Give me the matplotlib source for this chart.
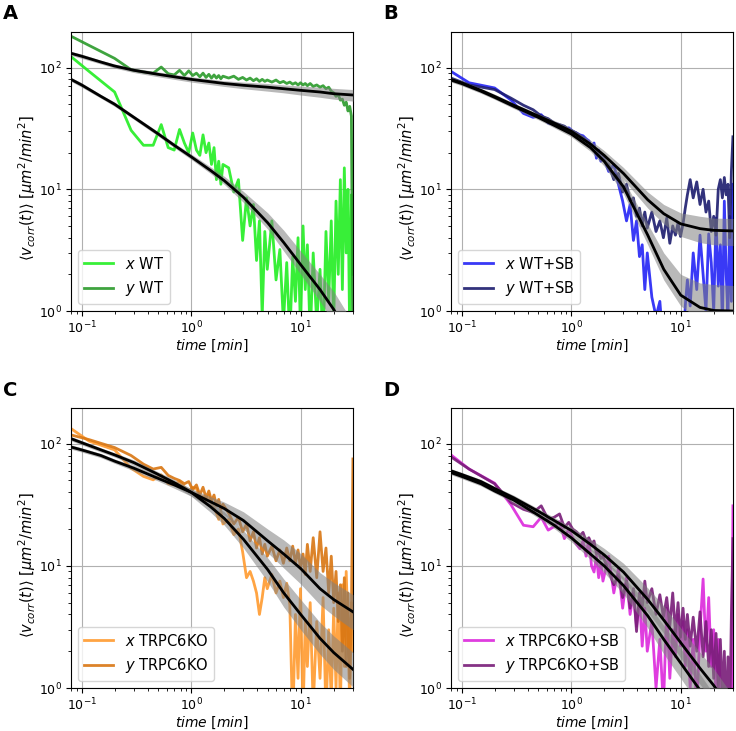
import numpy as np
import matplotlib
matplotlib.use("Agg")
import matplotlib.pyplot as plt

# sampling times of the measured curves [min]
t_data = [0.08, 0.117, 0.2, 0.283, 0.367, 0.45, 0.533, 0.617, 0.7, 0.783, 0.867, 0.95,
          1.033, 1.117, 1.2, 1.283, 1.367, 1.45, 1.533, 1.617, 1.7, 1.783, 1.867, 1.95,
          2.2, 2.45, 2.7, 2.95, 3.2, 3.45, 3.7, 3.95, 4.2, 4.45, 4.7, 4.95,
          5.45, 5.95, 6.45, 6.95, 7.45, 7.95, 8.45, 8.95, 9.45, 9.95, 10.5, 11.0,
          11.5, 12.2, 13, 14, 15, 16, 17, 18, 19, 20, 21, 22,
          23, 24, 25, 26, 27, 28, 29, 29.95]

# times of the fitted model curves [min]
t_fit = [0.08, 0.1, 0.15, 0.2, 0.3, 0.5, 0.7, 1, 1.5, 2, 3, 5, 7, 10, 15, 20, 30]

# ---- A: WT
wt_x = [123, 93, 63, 30.5, 23, 23, 34, 22, 21, 31, 24, 20,
        29, 21, 19, 28, 20, 24, 16, 22, 12, 17, 11, 16,
        15, 9.5, 12, 3.8, 8.5, 5, 7.5, 2.6, 5.5, 0.9, 4.5, 2.2,
        5.5, 1.8, 3.2, 0.8, 2.5, 0.6, 2.8, 1.2, 4.0, 0.7, 5.0, 1.5,
        3.5, 0.6, 3.0, 0.8, 2.2, 0.5, 4.5, 1.2, 5.5, 0.8, 8, 2,
        12, 1.5, 15, 3, 10, 0.6, 9, 2]
wt_y = [181, 152, 119, 96, 92, 90, 101, 89, 87, 95, 86, 94,
        86, 90, 84, 90, 83, 88, 82, 87, 82, 86, 81, 85,
        82, 85, 80, 83, 79, 82, 78, 81, 77, 80, 77, 79,
        76, 79, 75, 77, 74, 76, 73, 75, 72, 75, 72, 74,
        71, 74, 70, 72, 69, 71, 67, 69, 64, 62, 58, 60,
        54, 55, 49, 52, 44, 48, 40, 0.5]
fit_wt_x = [80, 72, 58, 50, 39, 28.5, 23, 18.5, 14.3, 11.8, 8.6, 5.3, 3.65, 2.4, 1.5, 1.03, 0.55]
fit_wt_x_lo = [77, 69, 56, 48, 37.5, 27.3, 22, 17.6, 13.5, 11.0, 7.8, 4.7, 3.1, 2.0, 1.2, 0.8, 0.4]
fit_wt_x_hi = [83, 75, 60, 52, 40.5, 29.7, 24, 19.5, 15.3, 12.8, 9.6, 6.4, 4.6, 3.1, 2.0, 1.45, 0.8]
fit_wt_y = [131, 124, 111, 103, 95, 88, 84, 80, 76.5, 74, 71.5, 69, 67, 65, 63, 61, 59.5]
fit_wt_y_lo = [126, 119, 107, 99, 91, 84, 80, 76, 72.5, 70, 67, 64, 62, 59.5, 57, 55, 53]
fit_wt_y_hi = [136, 129, 115, 107, 99, 92, 88, 84, 80.5, 78, 76, 74, 72, 70.5, 69, 67.5, 66]

# ---- B: WT+SB
wtsb_x = [93, 75, 68, 54, 42, 39, 41, 35, 34, 33, 31, 32,
          30, 29, 28, 27.5, 26, 25, 22, 24, 18, 21, 17, 19,
          14, 16, 11, 8, 5.5, 7.5, 3.8, 5.5, 2.8, 3.5, 1.5, 3.0,
          1.3, 0.9, 1.2, 0.5, 0.4, 0.9, 0.4, 0.3, 0.5, 0.9, 0.4, 1.1,
          1.8, 1.1, 3.0, 1.5, 4.2, 2.0, 1.0, 4.3, 2.5, 1.0, 5.8, 1.6,
          3.5, 0.8, 8, 2, 0.9, 6, 1.2, 11]
wtsb_y = [82, 72, 66, 56, 49, 45, 40, 38, 35, 34, 33, 31,
          30, 29, 27.5, 26.5, 25, 24, 22.5, 21, 20.5, 19, 18, 17.5,
          16, 12, 13.5, 9.5, 11, 8, 8.5, 6, 7, 5, 6.5, 4.8,
          6.5, 4.5, 5.5, 4.0, 5.8, 3.6, 5.0, 4.2, 5.3, 4.1, 5.2, 7,
          9, 12, 8.5, 11.5, 7.5, 10, 6.5, 8, 4.5, 6, 4.2, 10,
          12, 8.5, 12.5, 9, 11, 4, 14, 27]
fit_wtsb_x = [79, 74, 64, 57, 48, 39, 33.5, 28.5, 22, 17, 10.5, 4.2, 2.2, 1.35, 1.07, 1.01, 1.0]
fit_wtsb_x_lo = [76, 71, 61.5, 54.8, 46, 37.3, 32, 27, 20.5, 15.5, 9.2, 3.5, 1.8, 1.1, 0.85, 0.8, 0.78]
fit_wtsb_x_hi = [82, 77, 66.5, 59.2, 50, 40.7, 35, 30, 23.5, 18.6, 12, 5.2, 3.0, 2.0, 1.7, 1.65, 1.62]
fit_wtsb_y = [80, 75, 65, 58, 49, 40, 35, 30, 23.5, 19, 13.5, 8.2, 6.3, 5.2, 4.75, 4.6, 4.55]
fit_wtsb_y_lo = [77, 72, 62.5, 55.5, 47, 38.3, 33.3, 28.3, 21.8, 17.3, 12, 7.0, 5.2, 4.1, 3.65, 3.5, 3.45]
fit_wtsb_y_hi = [83, 78, 67.5, 60.5, 51, 41.8, 36.8, 31.8, 25.3, 20.8, 15.1, 9.5, 7.5, 6.4, 6.0, 5.8, 5.75]

# ---- C: TRPC6KO
ko_x = [133, 105, 89, 63, 54, 50.6, 55.6, 47, 46, 49, 44, 41,
        44, 43, 36, 37, 34, 38, 32, 30, 27, 24, 28, 22,
        24, 18, 20, 13, 8, 9, 7.5, 6, 4.0, 5.5, 8, 6.5,
        8.5, 6.0, 7.5, 5.5, 7.2, 4.8, 0.5, 4.0, 1.2, 6.5, 0.6, 3.5,
        1.5, 5.0, 0.7, 3.5, 1.2, 5.5, 0.6, 3.0, 0.8, 4.5, 1.0, 6,
        0.6, 7, 1.5, 9, 3, 0.7, 5, 2]
ko_y = [118, 108, 93, 80, 68, 62, 64, 55, 52, 50, 47, 49,
        42, 46, 38, 44, 36, 41, 34, 38, 31, 35, 29, 32,
        27, 22, 25, 19, 22, 16, 19, 14, 17, 12.5, 15, 12,
        14.5, 11, 13.5, 10.5, 14, 11, 14.5, 10.5, 13.5, 9.5, 12.5, 8.5,
        15, 9, 17, 8, 19, 9, 14, 6, 12, 5, 9, 3.5,
        7, 2.0, 8, 1.5, 6, 1.2, 4, 75]
fit_ko_x = [110, 102, 89, 81, 70, 56, 48, 40, 30.5, 24.5, 16.5, 9.3, 6.0, 4.0, 2.55, 1.95, 1.42]
fit_ko_x_lo = [105.6, 97.9, 85.4, 77.8, 66.5, 53.2, 45.1, 37.2, 27.5, 21.6, 14.0, 7.4, 4.6, 3.0, 1.89, 1.42, 1.02]
fit_ko_x_hi = [114.4, 106.1, 92.6, 84.2, 73.5, 58.8, 50.9, 42.8, 33.6, 27.7, 19.5, 11.6, 7.8, 5.3, 3.44, 2.67, 1.96]
fit_ko_y = [94, 89, 80, 72, 63, 52, 46, 40, 33.5, 29.5, 23.5, 16, 12.5, 9.5, 6.5, 5.3, 4.2]
fit_ko_y_lo = [90.2, 85.4, 76.8, 69.1, 59.9, 49.4, 43.2, 37.2, 30.2, 26.0, 20.0, 12.8, 9.6, 7.1, 4.8, 3.9, 3.0]
fit_ko_y_hi = [97.8, 92.6, 83.2, 74.9, 66.2, 54.6, 48.8, 42.8, 36.9, 33.3, 27.7, 20.0, 16.3, 12.6, 8.8, 7.3, 5.8]

# ---- D: TRPC6KO+SB
kosb_x = [81, 62, 47.5, 31.5, 21.5, 20.9, 25, 19.6, 21, 23, 16.7, 20,
          17, 15, 13.8, 16, 12, 16.7, 10, 8.9, 12, 8, 10.5, 7.5,
          12, 6, 9.5, 4.5, 8, 4, 6, 3.2, 5.5, 2.2, 4.5, 2.0,
          3.5, 1.0, 2.5, 0.7, 4.5, 1.2, 3.0, 1.8, 4.0, 2.2, 3.5, 1.5,
          3.0, 1.0, 2.5, 0.7, 3.0, 7.8, 2.0, 5.5, 1.5, 3.0, 0.8, 2.5,
          1.0, 0.5, 0.6, 0.4, 0.7, 0.4, 0.6, 31]
kosb_y = [78, 62, 47, 33, 29, 27.4, 31, 24, 25, 26.6, 20.6, 22.7,
          20, 19, 17.6, 18.8, 16, 17, 15, 16, 12.5, 13, 11.5, 12,
          9, 7, 8.5, 5.5, 7.5, 4.5, 6.5, 2.9, 6, 4.5, 7.5, 5,
          6.5, 4.0, 5.8, 3.8, 5.5, 3.2, 6.0, 2.8, 5.0, 2.6, 4.5, 2.5,
          4.0, 2.2, 3.8, 2.0, 4.2, 1.8, 3.5, 1.5, 3.0, 1.2, 2.8, 1.0,
          2.5, 0.8, 2.0, 0.5, 1.8, 0.5, 4, 16.7]
fit_kosb_x = [58, 54, 47, 41, 34.5, 26, 21.5, 17, 12.5, 10, 6.9, 3.9, 2.5, 1.6, 0.96, 0.65, 0.35]
fit_kosb_x_lo = [55.7, 51.8, 45.1, 39.4, 32.8, 24.7, 20.2, 15.8, 11.3, 8.8, 5.9, 3.1, 1.9, 1.2, 0.71, 0.47, 0.25]
fit_kosb_x_hi = [60.3, 56.2, 48.9, 42.6, 36.2, 27.3, 22.8, 18.2, 13.8, 11.3, 8.1, 4.9, 3.25, 2.1, 1.3, 0.89, 0.48]
fit_kosb_y = [60, 56, 49, 43, 36, 28, 23.5, 19.5, 15, 12.3, 8.9, 5.3, 3.6, 2.35, 1.45, 1.05, 0.62]
fit_kosb_y_lo = [57.6, 53.8, 47, 41.3, 34.2, 26.6, 22.1, 18.1, 13.5, 10.8, 7.6, 4.2, 2.8, 1.76, 1.07, 0.77, 0.45]
fit_kosb_y_hi = [62.4, 58.2, 51, 44.7, 37.8, 29.4, 24.9, 20.9, 16.5, 13.9, 10.5, 6.6, 4.7, 3.1, 1.96, 1.44, 0.86]

panels = [
    ("A", "WT", wt_x, wt_y, "#22ee22", "#2a9a2a",
     [(fit_wt_x, fit_wt_x_lo, fit_wt_x_hi), (fit_wt_y, fit_wt_y_lo, fit_wt_y_hi)]),
    ("B", "WT+SB", wtsb_x, wtsb_y, "#2323f5", "#1c1c6e",
     [(fit_wtsb_x, fit_wtsb_x_lo, fit_wtsb_x_hi), (fit_wtsb_y, fit_wtsb_y_lo, fit_wtsb_y_hi)]),
    ("C", "TRPC6KO", ko_x, ko_y, "#ff9a2e", "#d97612",
     [(fit_ko_x, fit_ko_x_lo, fit_ko_x_hi), (fit_ko_y, fit_ko_y_lo, fit_ko_y_hi)]),
    ("D", "TRPC6KO+SB", kosb_x, kosb_y, "#dc28dc", "#781c78",
     [(fit_kosb_x, fit_kosb_x_lo, fit_kosb_x_hi), (fit_kosb_y, fit_kosb_y_lo, fit_kosb_y_hi)]),
]

W, H = 736, 731
fig = plt.figure(figsize=(W / 100, H / 100), dpi=100)

# axes boxes in pixels: left, top, width, height
boxes = [(71, 32, 282, 279), (451, 32, 282, 279), (71, 408, 282, 280), (451, 408, 282, 280)]
letter_pos = [(3, 4), (383, 4), (3, 381), (383, 381)]

for (letter, name, xv, yv, cx, cy, fits), (l, tp, w, h), (lx, ly) in zip(panels, boxes, letter_pos):
    ax = fig.add_axes([l / W, 1 - (tp + h) / H, w / W, h / H])
    ax.plot(t_data, xv, color=cx, lw=2, alpha=0.9, label="$x$ " + name, zorder=2)
    ax.plot(t_data, yv, color=cy, lw=2, alpha=0.9, label="$y$ " + name, zorder=2)
    for f, lo, hi in fits:
        ax.fill_between(t_fit, lo, hi, color="gray", alpha=0.55, lw=0, zorder=3)
    for f, lo, hi in fits:
        ax.plot(t_fit, f, color="black", lw=2, zorder=4)
    ax.set_xscale("log")
    ax.set_yscale("log")
    ax.set_xlim(0.08, 30)
    ax.set_ylim(1, 196)
    ax.grid(True, which="major", color="#b0b0b0", lw=0.8)
    ax.set_axisbelow(True)
    ax.set_xlabel("$time$ $[min]$", fontsize=10, labelpad=1)
    ax.set_ylabel(r"$\langle v_{corr}(t)\rangle$ $[\mu m^2/min^2]$", fontsize=10.5)
    ax.yaxis.set_label_coords(-0.118, 0.44)
    ax.tick_params(labelsize=9, pad=3)
    ax.legend(loc="lower left", fontsize=10.5)
    fig.text(lx / W, 1 - ly / H, letter, fontsize=14, fontweight="bold", va="top", ha="left")

fig.savefig("out.png", dpi=100)
